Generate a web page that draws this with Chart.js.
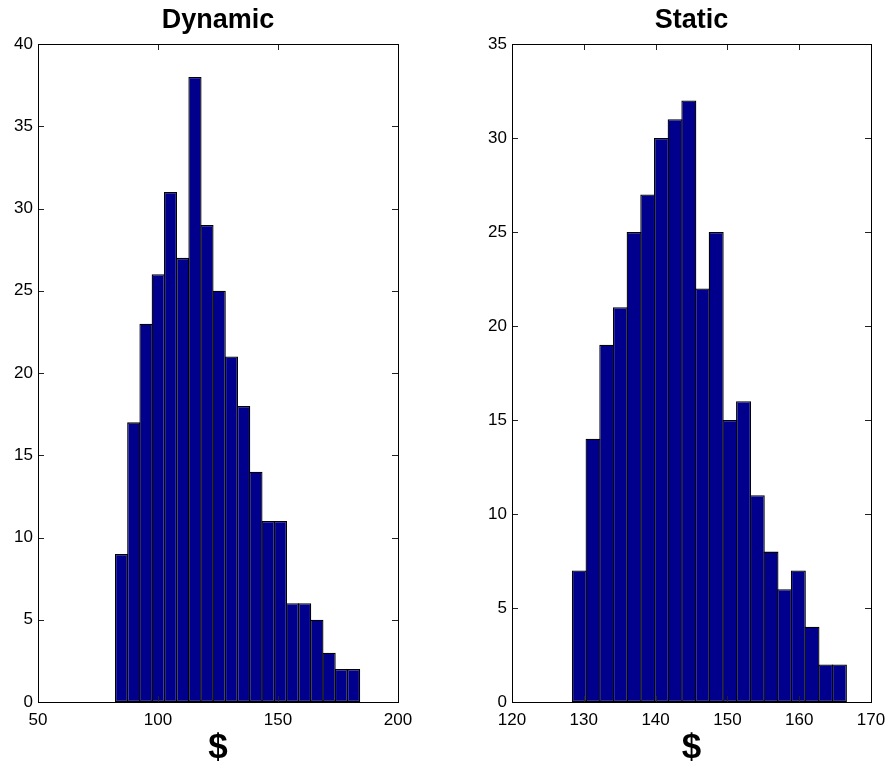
<!DOCTYPE html>
<html>
<head>
<script src="https://cdn.jsdelivr.net/npm/chart.js@4.4.1/dist/chart.umd.min.js"></script>
<title>Dynamic vs Static</title>
<style>
  body { margin: 0; background: #fff; }
  .box { position: absolute; top: 0; width: 445px; height: 768px; }
</style>
</head>
<body>
<div class="box" style="left:0"><canvas id="dyn" width="445" height="768"></canvas></div>
<div class="box" style="left:445px"><canvas id="sta" width="445" height="768"></canvas></div>
<script>
// bin centres ($) and counts
const dynamicBins = [84.8, 89.9, 95.0, 100.1, 105.2, 110.3, 115.4, 120.4, 125.5, 130.6,
                     135.7, 140.8, 145.9, 151.0, 156.0, 161.1, 166.2, 171.3, 176.4, 181.5];
const dynamicCounts = [9, 17, 23, 26, 31, 27, 38, 29, 25, 21, 18, 14, 11, 11, 6, 6, 5, 3, 2, 2];

const staticBins = [129.38, 131.29, 133.20, 135.10, 137.01, 138.91, 140.82, 142.72, 144.63, 146.54,
                    148.44, 150.35, 152.25, 154.16, 156.07, 157.97, 159.88, 161.78, 163.69, 165.60];
const staticCounts = [7, 14, 19, 21, 25, 27, 30, 31, 32, 22, 25, 15, 16, 11, 8, 6, 7, 4, 2, 2];

const dynamicXRange = [50, 200, 50];
const dynamicYRange = [0, 40, 5];
const staticXRange = [120, 170, 10];
const staticYRange = [0, 35, 5];

const barColor = 'rgb(0,0,140)';
const font = '"Liberation Sans", Arial, Helvetica, sans-serif';

// box + inward ticks + title, matlab style
const matlabFrame = {
  id: 'matlabFrame',
  afterDatasetsDraw(chart, args, opts) {
    const ctx = chart.ctx;
    const a = chart.chartArea;
    const x = chart.scales.x, y = chart.scales.y;
    const len = 6;
    ctx.save();
    ctx.strokeStyle = '#222';
    ctx.lineWidth = 1;
    ctx.beginPath();
    x.ticks.forEach(t => {
      const px = Math.round(x.getPixelForValue(t.value)) + 0.5;
      ctx.moveTo(px, a.bottom); ctx.lineTo(px, a.bottom - len);
      ctx.moveTo(px, a.top); ctx.lineTo(px, a.top + len);
    });
    y.ticks.forEach(t => {
      const py = Math.round(y.getPixelForValue(t.value)) + 0.5;
      ctx.moveTo(a.left, py); ctx.lineTo(a.left + len, py);
      ctx.moveTo(a.right, py); ctx.lineTo(a.right - len, py);
    });
    ctx.stroke();
    ctx.strokeStyle = '#000';
    ctx.strokeRect(Math.round(a.left) + 0.5, Math.round(a.top) + 0.5,
                   Math.round(a.right - a.left), Math.round(a.bottom - a.top));
    ctx.fillStyle = '#000';
    ctx.font = 'bold 27px ' + font;
    ctx.textAlign = 'center';
    ctx.textBaseline = 'middle';
    ctx.fillText(opts.text, (a.left + a.right) / 2, 21);
    ctx.restore();
  }
};

function makeHist(id, title, bins, counts, xr, yr, padLeft, padRight) {
  new Chart(document.getElementById(id), {
    type: 'bar',
    data: {
      datasets: [{
        data: bins.map((b, i) => ({ x: b, y: counts[i] })),
        backgroundColor: barColor,
        borderColor: '#000',
        borderWidth: 1.3,
        borderSkipped: false,
        categoryPercentage: 1,
        barPercentage: 1.1
      }]
    },
    options: {
      responsive: false,
      devicePixelRatio: 1,
      animation: false,
      layout: { padding: { left: padLeft, right: padRight, top: 44, bottom: 0 } },
      plugins: {
        legend: { display: false },
        tooltip: { enabled: false },
        matlabFrame: { text: title }
      },
      scales: {
        x: {
          type: 'linear',
          offset: false,
          min: xr[0], max: xr[1],
          grid: { display: false, drawTicks: false },
          border: { display: false },
          ticks: { stepSize: xr[2], padding: 8, color: '#000', font: { family: font, size: 17 } },
          title: { display: true, text: '$', color: '#000', padding: { top: 0, bottom: 0 },
                   font: { family: font, size: 35, weight: 'bold', lineHeight: 1.12 } },
          afterFit: s => { s.height = 66; s.paddingLeft = 0; s.paddingRight = 0; }
        },
        y: {
          min: yr[0], max: yr[1],
          grid: { display: false, drawTicks: false },
          border: { display: false },
          ticks: { stepSize: yr[2], padding: 5, color: '#000', font: { family: font, size: 17 } },
          afterFit: s => { s.width = 38; s.paddingTop = 0; s.paddingBottom = 0; }
        }
      }
    },
    plugins: [matlabFrame]
  });
}

makeHist('dyn', 'Dynamic', dynamicBins, dynamicCounts, dynamicXRange, dynamicYRange, 0, 47);
makeHist('sta', 'Static', staticBins, staticCounts, staticXRange, staticYRange, 29, 19);
</script>
</body>
</html>
